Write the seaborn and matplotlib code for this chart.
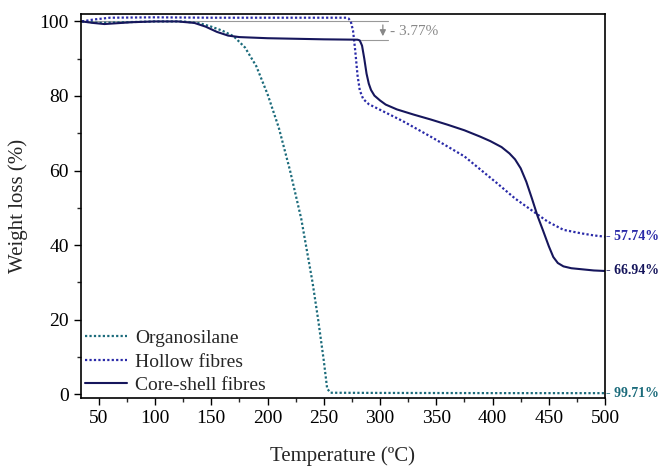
import matplotlib
matplotlib.use("Agg")
import matplotlib.pyplot as plt
from matplotlib.ticker import MultipleLocator
import seaborn as sns

# TGA curves
org_T = [35, 50, 75, 100, 125, 140, 150, 160, 170, 180, 190, 200, 210, 220, 230, 240, 245, 250, 253, 256, 300, 400, 500]
org_W = [100, 99.6, 99.8, 100, 100, 99.5, 98.6, 97.5, 96, 93, 88, 80.5, 71.5, 60, 47, 30, 20, 9, 1.5, 0.4, 0.35, 0.3, 0.29]

hollow_T = [35, 45, 60, 100, 150, 200, 250, 270, 272, 274, 276, 278, 280, 282, 285, 290, 300, 320, 345, 375, 404,
            420, 434, 449, 463, 478, 490, 500]
hollow_W = [100, 100.5, 101, 101.1, 101, 101, 101, 101, 100.8, 100, 97.5, 92, 85.5, 81.5, 79.2, 77.8, 76.3, 73.3, 69.1, 63.8, 56.6,
            52.5, 49.5, 46.3, 44.1, 43.2, 42.6, 42.26]

core_T = [35, 45, 55, 65, 80, 100, 120, 135, 145, 155, 165, 175, 200, 250, 280, 282, 284, 286, 288, 290, 292, 295, 300,
          305, 315, 330, 345, 360, 375, 389, 398, 408, 415, 420, 425, 430, 435, 440, 445, 450, 454, 458, 463, 470,
          480, 490, 500]
core_W = [100, 99.6, 99.3, 99.5, 99.8, 100, 100, 99.6, 98.6, 97.2, 96.2, 95.8, 95.5, 95.2, 95.1, 94.9, 93.5, 90, 86, 83.3, 81.6, 80.1, 78.8,
          77.7, 76.4, 75, 73.7, 72.3, 70.8, 69.1, 67.9, 66.3, 64.6, 63, 60.6, 57, 52.5, 47.8, 43.8, 39.7, 36.8, 35.2, 34.3, 33.8,
          33.5, 33.2, 33.06]

series_names = ["Organosilane", "Hollow fibres", "Core-shell fibres"]
end_labels = ["99.71%", "57.74%", "66.94%"]
colors = ["#1b6b7b", "#2a2aa8", "#16165c"]

sns.set_theme(style="ticks")
plt.rcParams["font.family"] = ["Liberation Serif", "DejaVu Serif"]

fig = plt.figure(figsize=(6.62, 4.66), dpi=100)
ax = fig.add_axes([0.122, 0.146, 0.792, 0.824])

sns.lineplot(x=org_T, y=org_W, ax=ax, color=colors[0], lw=1.6, ls=(0, (1, 1)), label=series_names[0])
sns.lineplot(x=hollow_T, y=hollow_W, ax=ax, color=colors[1], lw=1.6, ls=(0, (1, 1)), label=series_names[1])
sns.lineplot(x=core_T, y=core_W, ax=ax, color=colors[2], lw=1.5, label=series_names[2])

ax.set_xlim(34, 500)
ax.set_ylim(-1, 102)
ax.xaxis.set_major_locator(MultipleLocator(50))
ax.xaxis.set_minor_locator(MultipleLocator(25))
ax.yaxis.set_major_locator(MultipleLocator(20))
ax.yaxis.set_minor_locator(MultipleLocator(10))
ax.tick_params(which="major", direction="out", length=5, width=1, labelsize=14, colors="black")
ax.tick_params(which="minor", direction="out", length=3, width=1)
for s in ax.spines.values():
    s.set_visible(True)
    s.set_color("black")
    s.set_linewidth(1.2)

ax.set_xlabel("Temperature (ºC)", fontsize=15, labelpad=14)
ax.set_ylabel("Weight loss (%)", fontsize=15, labelpad=8)

# -3.77% step marker
ax.plot([34, 307], [100, 100], color="#999999", lw=0.8, zorder=1)
ax.plot([283, 307], [95, 95], color="#999999", lw=0.8, zorder=1)
ax.annotate("", xy=(302.5, 95.3), xytext=(302.5, 99.8),
            arrowprops=dict(arrowstyle="-|>", color="#888888", lw=0.9, mutation_scale=9))
ax.text(309, 97.4, "- 3.77%", color="#888888", fontsize=11, va="center")

# final residues on the right side
ends = [org_W[-1], hollow_W[-1], core_W[-1]]
for y, lab, c in zip(ends, end_labels, colors):
    ax.text(501, y, "- " + lab, color=c, fontsize=10, fontweight="bold", va="center", clip_on=False)

ax.legend(loc="lower left", frameon=False, fontsize=14, handlelength=2.2, handletextpad=0.4,
          labelspacing=0.3, borderaxespad=0.1, borderpad=0.1, bbox_to_anchor=(0.0, 0.0))

fig.savefig("out.png", dpi=100)
